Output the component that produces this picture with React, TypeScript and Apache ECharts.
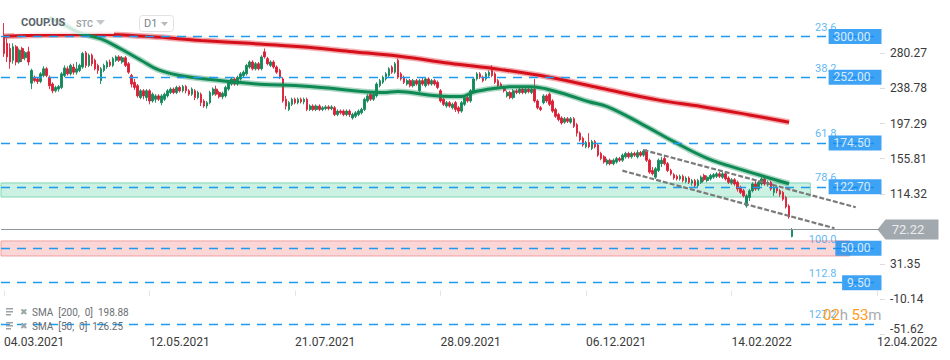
import React, { useEffect, useRef } from "react";
import * as echarts from "echarts";

// ---------- data ----------
const SLOT_COUNT = 291; // x slots (trading days incl. projection); slot = candle index + 1
const tickIndex = [1, 49, 97, 145, 193, 241, 289];
const tickText = ["04.03.2021", "12.05.2021", "21.07.2021", "28.09.2021", "06.12.2021", "14.02.2022", "12.04.2022"];

const yTicks = [-51.62, -10.14, 31.35, 114.32, 155.81, 197.29, 238.78, 280.27];
const yMin = -51.62;
const yMax = 343.2;

// [open, close, low, high]
const candles = [
  [300, 280, 276, 316], [292, 276, 270, 298], [286, 270, 262, 292], [272, 288, 268, 292], [288, 270, 266, 290],
  [270, 284, 268, 286], [286, 274, 270, 288], [275, 281, 272, 283], [282, 270, 266, 288], [245, 260, 238, 262],
  [252, 248, 246, 254], [250, 247, 244, 252], [247, 256, 245, 258], [254, 262, 252, 265], [262, 254, 252, 264],
  [252, 242, 238, 254], [244, 236, 233, 246], [236, 240, 234, 242], [238, 241, 235, 243], [240, 256, 238, 258],
  [254, 263, 252, 266], [262, 256, 254, 265], [256, 266, 254, 268], [264, 258, 255, 268], [258, 262, 255, 270],
  [260, 266, 258, 268], [264, 280, 262, 282], [281, 266, 263, 283], [266, 278, 264, 280], [278, 268, 265, 280],
  [272, 262, 260, 274], [266, 260, 256, 268], [248, 262, 244, 264], [260, 266, 258, 268], [264, 270, 262, 272],
  [270, 266, 264, 273], [266, 274, 264, 276], [272, 276, 270, 278], [276, 272, 270, 278], [270, 275, 268, 277],
  [275, 266, 264, 277], [268, 258, 256, 270], [254, 244, 240, 256], [246, 240, 237, 250], [242, 230, 228, 244],
  [228, 236, 226, 238], [236, 230, 226, 238], [228, 236, 224, 238], [236, 224, 220, 238], [224, 232, 222, 234],
  [226, 230, 222, 232], [230, 226, 224, 232], [222, 230, 219, 232], [226, 232, 224, 234], [230, 236, 228, 238],
  [234, 238, 232, 240], [238, 234, 232, 240], [234, 240, 232, 242], [240, 236, 234, 242], [236, 241, 234, 243],
  [241, 236, 233, 243], [236, 232, 230, 238], [232, 238, 230, 240], [236, 228, 225, 238], [228, 234, 226, 236],
  [232, 222, 218, 234], [224, 218, 216, 226], [218, 222, 215, 224], [222, 234, 220, 236], [232, 238, 230, 240],
  [238, 232, 230, 242], [234, 229, 227, 236], [229, 233, 226, 235], [230, 240, 228, 242], [238, 246, 236, 248],
  [244, 250, 242, 252], [250, 244, 242, 252], [244, 252, 242, 254], [250, 256, 248, 258], [254, 258, 252, 260],
  [256, 266, 254, 268], [264, 270, 262, 272], [270, 262, 260, 272], [262, 268, 260, 270], [268, 262, 260, 270],
  [262, 276, 260, 278], [282, 276, 274, 286], [274, 268, 266, 276], [266, 270, 264, 272], [270, 264, 262, 272],
  [264, 258, 256, 266], [260, 252, 250, 262], [250, 224, 222, 252], [226, 218, 214, 230], [214, 222, 212, 224],
  [220, 226, 218, 228], [226, 222, 220, 228], [222, 226, 220, 228], [226, 223, 221, 228], [223, 226, 220, 228],
  [226, 214, 212, 228], [214, 218, 212, 220], [218, 214, 212, 220], [214, 218, 212, 220], [218, 214, 212, 220],
  [214, 216, 212, 218], [215, 217, 213, 219], [217, 215, 213, 219], [215, 217, 213, 219], [216, 208, 206, 218],
  [208, 212, 206, 214], [212, 210, 208, 214], [212, 208, 206, 214], [208, 212, 206, 214], [212, 208, 205, 214],
  [204, 208, 202, 210], [206, 210, 204, 212], [208, 212, 206, 214], [210, 214, 208, 216], [214, 226, 212, 228],
  [224, 230, 222, 232], [232, 226, 224, 234], [226, 232, 224, 234], [230, 244, 228, 246], [242, 248, 240, 250],
  [246, 252, 244, 254], [250, 256, 248, 258], [254, 262, 252, 264], [264, 258, 256, 266], [258, 268, 256, 270],
  [272, 252, 250, 274], [256, 250, 248, 258], [252, 246, 244, 254], [244, 248, 242, 250], [248, 242, 240, 250],
  [242, 248, 240, 250], [248, 244, 242, 250], [236, 248, 234, 250], [248, 244, 242, 252], [242, 250, 240, 252],
  [250, 244, 242, 252], [244, 248, 242, 250], [248, 244, 242, 250], [246, 240, 238, 248], [236, 224, 222, 238],
  [226, 220, 218, 228], [218, 222, 216, 224], [222, 218, 216, 224], [216, 220, 214, 222], [222, 214, 211, 224],
  [216, 212, 209, 218], [212, 222, 210, 224], [220, 228, 218, 230], [228, 224, 222, 230], [224, 236, 222, 238],
  [236, 250, 234, 252], [250, 256, 248, 258], [256, 252, 250, 258], [252, 248, 246, 254], [250, 256, 248, 258],
  [254, 258, 252, 260], [260, 254, 252, 266], [256, 246, 244, 258], [248, 242, 240, 250], [244, 240, 238, 246],
  [240, 236, 234, 242], [230, 234, 228, 236], [234, 228, 226, 236], [228, 236, 226, 238], [236, 234, 232, 238],
  [234, 238, 232, 240], [238, 234, 232, 240], [234, 238, 232, 240], [238, 235, 233, 240], [234, 238, 232, 240],
  [238, 224, 222, 250], [224, 216, 214, 226], [216, 214, 212, 218], [222, 230, 220, 232], [230, 224, 222, 232],
  [232, 220, 218, 234], [224, 212, 210, 226], [214, 206, 204, 216], [208, 202, 200, 210], [204, 198, 196, 206],
  [199, 203, 197, 205], [203, 200, 198, 205], [199, 203, 197, 205], [203, 194, 192, 205], [196, 186, 182, 198],
  [186, 178, 176, 188], [180, 172, 170, 182], [170, 175, 168, 177], [175, 170, 168, 186], [168, 176, 166, 178],
  [176, 170, 168, 178], [172, 160, 158, 174], [162, 156, 154, 164], [158, 152, 150, 160], [150, 154, 148, 156],
  [154, 150, 148, 156], [150, 154, 148, 156], [152, 156, 150, 158], [156, 154, 152, 158], [154, 160, 152, 162],
  [158, 162, 156, 164], [162, 158, 156, 164], [158, 162, 156, 164], [162, 160, 158, 164], [158, 163, 156, 166],
  [163, 160, 158, 165], [160, 165, 158, 167], [165, 154, 152, 167], [154, 140, 138, 156], [142, 138, 136, 146],
  [134, 144, 132, 146], [142, 154, 140, 156], [150, 154, 146, 158], [156, 150, 148, 160], [150, 142, 140, 152],
  [142, 138, 136, 144], [137, 133, 131, 139], [135, 132, 130, 137], [132, 135, 130, 137], [135, 130, 128, 137],
  [129, 133, 127, 135], [133, 128, 126, 135], [127, 130, 124, 132], [130, 124, 121, 132], [124, 130, 122, 132],
  [128, 134, 126, 136], [136, 131, 129, 138], [130, 134, 128, 136], [132, 136, 130, 138], [134, 137, 132, 139],
  [135, 138, 133, 140], [138, 135, 133, 140], [134, 138, 132, 140], [138, 132, 130, 140], [133, 128, 126, 135],
  [127, 131, 125, 133], [131, 126, 124, 133], [128, 120, 117, 130], [122, 116, 114, 124], [118, 112, 110, 120],
  [100, 112, 98, 114], [110, 118, 106, 120], [118, 126, 116, 128], [126, 120, 118, 130], [120, 128, 118, 130],
  [126, 132, 124, 134], [132, 126, 124, 134], [125, 128, 123, 130], [128, 120, 118, 130], [116, 122, 112, 124],
  [122, 118, 115, 124], [118, 114, 111, 120], [116, 108, 106, 118], [110, 99, 97, 112], [100, 87, 85, 102],
  [64, 72.22, 63, 74],
];

// [candle index, value]
const sma200 = [
  [0, 300.5], [15, 301.8], [32, 302.4], [48, 300], [65, 295.5], [81, 292], [98, 288], [114, 282.5],
  [131, 276.5], [147, 268.5], [164, 261], [180, 252], [197, 239], [216, 225], [230, 217.5], [246, 207.5], [259, 198.88],
];
const sma50 = [
  [15, 322], [20, 313.7], [25, 304.2], [32, 297.2], [38, 286.5], [45, 272.4], [51, 260.6], [58, 254.1],
  [65, 250.5], [76, 246.4], [86, 243.4], [96, 242.3], [107, 239.3], [118, 235.2], [125, 234], [130, 235.2],
  [140, 231.1], [147, 229.3], [151, 229.3], [155, 234.6], [162, 239], [168, 240.9], [174, 240.9], [179, 238.1],
  [186, 231.1], [193, 223.1], [199, 217.2], [210, 197.6], [221, 175.9], [232, 156.3], [243, 143.3], [259, 126.25],
];
const sma200Last = 198.88;
const sma50Last = 126.25;

const fibLevels = ["23.6", "38.2", "61.8", "78.6", "100.0", "112.8", "127.2"];
const fibPrices = [300, 252, 174.5, 122.7, 50, 9.5, -39.3];
const boxPrices = [300, 252, 174.5, 122.7, 50, 9.5];
const lastPrice = 72.22;

// zones: [low, high, end slot]
const greenZone = [110.6, 127.2, 267];
const redZone = [41, 58.7, 280];

// channel lines: [candle index, value]
const channelUpper = [[211, 166.1], [281, 98.5]];
const channelLower = [[204, 141.7], [274, 73.7]];

// ---------- component ----------
export default function App() {
  const ref = useRef<HTMLDivElement>(null);

  useEffect(() => {
    if (!ref.current) return;
    const chart = echarts.init(ref.current, null, { renderer: "svg" });
    const slots = Array.from({ length: SLOT_COUNT }, (_, i) => String(i));
    const lastSlot = SLOT_COUNT - 1;
    const candleData = candles.map((c, k) => [k + 1, c[0], c[1], c[2], c[3]]);
    const toSlot = (arr: number[][]) => arr.map((p) => [p[0] + 1, p[1]]);
    const font = "Roboto, 'Noto Sans', sans-serif";
    const isTick = (i: number) => tickIndex.indexOf(i) >= 0;

    const option: any = {
      animation: false,
      backgroundColor: "#ffffff",
      textStyle: { fontFamily: font },
      grid: { left: 1, right: 70, top: 0, bottom: 25.6 },
      xAxis: {
        type: "category",
        data: slots,
        boundaryGap: false,
        axisLine: { show: false },
        splitLine: { show: false },
        axisTick: {
          show: true,
          interval: (i: number) => isTick(i),
          length: 5,
          lineStyle: { color: "#e3e3e3" },
        },
        axisLabel: {
          interval: (i: number) => isTick(i),
          formatter: (_v: string, i: number) => tickText[tickIndex.indexOf(i)] ?? "",
          align: "left",
          color: "#3a3a3a",
          fontSize: 12,
          fontFamily: font,
          margin: 2,
        },
      },
      yAxis: {
        type: "value",
        position: "right",
        min: yMin,
        max: yMax,
        axisLine: { show: false },
        splitLine: { show: false },
        axisTick: { show: true, customValues: yTicks, length: 5, lineStyle: { color: "#dddddd" } },
        axisLabel: {
          customValues: yTicks,
          color: "#3a3a3a",
          fontSize: 12,
          fontFamily: font,
          margin: 10,
          formatter: (v: number) =>
            Math.abs(v - yMin) < 0.001 ? "{lo|" + v.toFixed(2) + "}" : v.toFixed(2),
          rich: { lo: { padding: [0, 0, 10, 0], color: "#3a3a3a", fontSize: 12, fontFamily: font } },
        },
      },
      series: [
        {
          type: "line",
          name: "fib",
          data: [],
          z: 1,
          silent: true,
          markLine: {
            silent: true,
            symbol: ["none", "none"],
            label: { show: false },
            lineStyle: { color: "#1e9bef", width: 1.3, type: [9, 7] },
            data: fibPrices.map((v) => ({ yAxis: v })),
          },
        },
        {
          type: "line",
          name: "last",
          data: [],
          z: 2,
          silent: true,
          markLine: {
            silent: true,
            symbol: ["none", "none"],
            label: { show: false },
            lineStyle: { color: "#8d969c", width: 1, type: "solid" },
            data: [{ yAxis: lastPrice }],
          },
        },
        {
          type: "candlestick",
          name: "COUP.US",
          data: candleData,
          dimensions: ["x", "open", "close", "lowest", "highest"],
          encode: { x: 0, y: [1, 2, 3, 4] },
          barWidth: 2.2,
          clip: false,
          z: 3,
          itemStyle: {
            color: "#14885a",
            color0: "#da1f35",
            borderColor: "#14885a",
            borderColor0: "#da1f35",
            borderWidth: 0.9,
          },
        },
        {
          type: "line",
          name: "sma200halo",
          data: toSlot(sma200),
          smooth: 0.4,
          showSymbol: false,
          silent: true,
          z: 4,
          lineStyle: { color: "rgba(220,20,30,0.35)", width: 6 },
        },
        {
          type: "line",
          name: "SMA [200, 0]",
          data: toSlot(sma200),
          smooth: 0.4,
          showSymbol: false,
          silent: true,
          z: 4,
          lineStyle: { color: "#d6101b", width: 3 },
        },
        {
          type: "line",
          name: "sma50halo",
          data: toSlot(sma50),
          smooth: 0.4,
          showSymbol: false,
          silent: true,
          z: 4,
          lineStyle: { color: "rgba(20,140,90,0.35)", width: 6 },
        },
        {
          type: "line",
          name: "SMA [50, 0]",
          data: toSlot(sma50),
          smooth: 0.4,
          showSymbol: false,
          silent: true,
          z: 4,
          lineStyle: { color: "#0f8a55", width: 3 },
        },
        {
          type: "line",
          name: "channelUpper",
          data: toSlot(channelUpper),
          showSymbol: false,
          silent: true,
          z: 5,
          lineStyle: { color: "#7a7a7a", width: 2.2, type: [5, 2] },
        },
        {
          type: "line",
          name: "channelLower",
          data: toSlot(channelLower),
          showSymbol: false,
          silent: true,
          z: 5,
          lineStyle: { color: "#7a7a7a", width: 2.2, type: [5, 2] },
        },
        {
          type: "scatter",
          name: "boxes",
          data: boxPrices.map((v) => [lastSlot, v]),
          symbolSize: 1,
          clip: false,
          silent: true,
          z: 7,
          itemStyle: { color: "transparent" },
          label: {
            show: true,
            position: "left",
            distance: -2,
            formatter: (p: any) => p.value[1].toFixed(2),
            backgroundColor: "#0f8cf3",
            color: "#ffffff",
            fontSize: 12,
            fontFamily: font,
            lineHeight: 12,
            padding: [2, 11, 1, 5],
          },
        },
        {
          type: "line",
          name: "zones",
          data: [],
          z: 8,
          silent: true,
          markArea: {
            silent: true,
            data: [
              [
                { xAxis: 0, yAxis: greenZone[1], itemStyle: { color: "rgba(70,205,150,0.28)", borderColor: "#80d9b6", borderWidth: 1 } },
                { xAxis: greenZone[2], yAxis: greenZone[0] },
              ],
              [
                { xAxis: 0, yAxis: redZone[1], itemStyle: { color: "rgba(240,90,90,0.25)", borderColor: "#f2a0a0", borderWidth: 1 } },
                { xAxis: redZone[2], yAxis: redZone[0] },
              ],
            ],
          },
        },
        {
          type: "scatter",
          name: "fibLabels",
          data: fibPrices.map((v, i) => ({ value: [lastSlot, v], name: fibLevels[i] })),
          symbolSize: 1,
          clip: false,
          silent: true,
          z: 9,
          itemStyle: { color: "transparent" },
          label: {
            show: true,
            position: "left",
            distance: 43,
            offset: [0, -9],
            formatter: "{b}",
            color: "#35a5f0",
            fontSize: 11,
            fontFamily: font,
          },
        },
        {
          type: "scatter",
          name: "lastTag",
          data: [[lastSlot, lastPrice]],
          symbol: "path://M0,10 L8,0 L61,0 L61,20 L8,20 Z",
          symbolSize: [61, 20],
          symbolOffset: [28, 0],
          clip: false,
          silent: true,
          z: 10,
          itemStyle: { color: "#89949a" },
          label: {
            show: true,
            position: "inside",
            offset: [0, 0],
            formatter: (p: any) => p.value[1].toFixed(2),
            color: "#ffffff",
            fontSize: 13,
            fontFamily: font,
          },
        },
      ],
      graphic: [
        // header (semi-transparent backdrop)
        { type: "rect", z: 99, shape: { x: 14, y: 12, width: 100, height: 22 }, style: { fill: "rgba(255,255,255,0.8)" } },
        { type: "text", left: 21, top: 17, z: 100, style: { text: "COUP.US", fill: "#59636a", font: "bold 11px " + font } },
        { type: "text", left: 76, top: 19, z: 100, style: { text: "STC", fill: "#a0a5aa", font: "bold 9px " + font } },
        { type: "polygon", z: 100, shape: { points: [[96, 20], [105, 20], [100.5, 25]] }, style: { fill: "#c4c8cc" } },
        { type: "rect", z: 100, shape: { x: 139.5, y: 15.5, width: 34, height: 16, r: 3 }, style: { fill: "#ffffff", stroke: "#e2e2e2", lineWidth: 1 } },
        { type: "text", left: 144, top: 18, z: 101, style: { text: "D1", fill: "#7b8389", font: "11px " + font } },
        { type: "polygon", z: 101, shape: { points: [[161, 22], [168, 22], [164.5, 26]] }, style: { fill: "#b5b9bd" } },
        // legend
        { type: "rect", z: 100, shape: { x: 6, y: 308, width: 7, height: 1.5 }, style: { fill: "#9aa3a8" } },
        { type: "rect", z: 100, shape: { x: 6, y: 311, width: 7, height: 1.5 }, style: { fill: "#9aa3a8" } },
        { type: "rect", z: 100, shape: { x: 6, y: 314, width: 5, height: 1.5 }, style: { fill: "#9aa3a8" } },
        { type: "text", left: 20, top: 307, z: 100, style: { text: "✖", fill: "#9aa3a8", font: "9px 'DejaVu Sans'" } },
        { type: "text", left: 32, top: 307.5, z: 100, style: { text: "SMA  [200,  0]  " + sma200Last.toFixed(2), fill: "#6a6f73", font: "10px " + font } },
        { type: "rect", z: 100, shape: { x: 6, y: 322, width: 7, height: 1.5 }, style: { fill: "#9aa3a8" } },
        { type: "rect", z: 100, shape: { x: 6, y: 325, width: 7, height: 1.5 }, style: { fill: "#9aa3a8" } },
        { type: "rect", z: 100, shape: { x: 6, y: 328, width: 5, height: 1.5 }, style: { fill: "#9aa3a8" } },
        { type: "text", left: 20, top: 321, z: 100, style: { text: "✖", fill: "#9aa3a8", font: "9px 'DejaVu Sans'" } },
        { type: "text", left: 32, top: 321.5, z: 100, style: { text: "SMA  [50,  0]  " + sma50Last.toFixed(2), fill: "#6a6f73", font: "10px " + font } },
        // countdown
        {
          type: "text",
          left: 823,
          top: 307,
          z: 100,
          style: {
            text: "{o|02}{g|h} {o|53}{g|m}",
            rich: {
              o: { fill: "#ff9a1a", font: "15px " + font },
              g: { fill: "#a9adb0", font: "15px " + font },
            },
          },
        },
      ],
    };

    chart.setOption(option);
    return () => chart.dispose();
  }, []);

  return (
    <div
      ref={ref}
      style={{ position: "fixed", left: 0, top: 0, width: 950, height: 360, background: "#fff" }}
    />
  );
}
